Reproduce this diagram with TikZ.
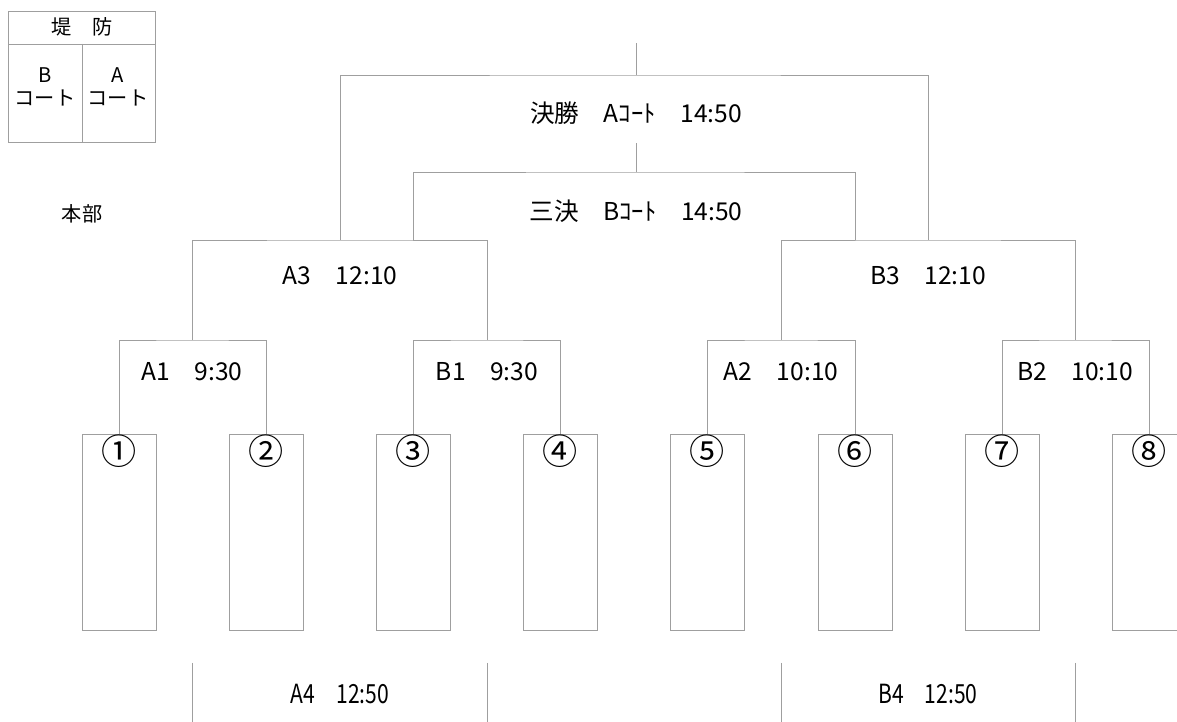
\documentclass[tikz,border=0pt]{standalone}
\usepackage{fontspec}
\setmainfont{Noto Sans CJK JP}
\newfontfamily\narrowjp[FakeStretch=0.8]{Noto Sans CJK JP}
\usetikzlibrary{positioning}
\tikzset{
	bracket/.style = {draw=gray!75, line width=0.5pt},
	player/.style = {
			rectangle,
			draw            = gray!75,
			line width      = 0.5pt,
			minimum width   = 1.48cm,
			minimum height  = 3.92cm,
			anchor          = north,
			inner sep       = 0pt,
		},
	match/.style = {font=\fontsize{14}{16}\selectfont, inner sep=1pt},
	seed/.style = {font=\fontsize{20}{22}\selectfont, inner sep=0pt},
	legendtext/.style = {font=\fontsize{11.5}{13.5}\selectfont, inner sep=1pt, align=center},
}

\begin{document}
\begin{tikzpicture}[x=0.02cm, y=-0.02cm]
	\useasboundingbox (0,0) rectangle (1177,722);

	% court legend
	\draw[bracket] (8,11) rectangle (155,142) (8,44) -- (155,44) (82,44) -- (82,142);
	\node[legendtext] (bank) at (82,27) {堤　防};
	\node[legendtext] (courtB) at (45,87) {B\\コート};
	\node[legendtext] (courtA) at (118,87) {A\\コート};
	\node[legendtext] (hq) at (82,214) {本部};

	% players
	\foreach \i/\x/\c in {1/119/①, 2/266/②, 3/413/③, 4/560/④, 5/707/⑤, 6/855/⑥, 7/1002/⑦, 8/1149/⑧}{
		\node[player] (p\i) at (\x,434) {};
		\node[seed, below=0.5pt of p\i.north] (n\i) {\c};
	}

	% match points
	\coordinate (mA1) at (192,340);
	\coordinate (mB1) at (487,340);
	\coordinate (mA2) at (781,340);
	\coordinate (mB2) at (1075,340);
	\coordinate (mA3) at (340,240);
	\coordinate (mB3) at (928,240);
	\coordinate (fin) at (636,75);
	\coordinate (third) at (636,172);
	\coordinate (tL) at (413,240);
	\coordinate (tR) at (855,240);
	\coordinate (finTop) at (636,43);
	\coordinate (thirdTop) at (636,143);

	\draw[bracket] (p1.north) |- (mA1) -| (p2.north);
	\draw[bracket] (p3.north) |- (mB1) -| (p4.north);
	\draw[bracket] (p5.north) |- (mA2) -| (p6.north);
	\draw[bracket] (p7.north) |- (mB2) -| (p8.north);
	\draw[bracket] (mA1) |- (mA3) -| (mB1);
	\draw[bracket] (mA2) |- (mB3) -| (mB2);
	\draw[bracket] (mA3) |- (fin) -| (mB3);
	\draw[bracket] (fin) -- (finTop);
	\draw[bracket] (tL) |- (third) -| (tR);
	\draw[bracket] (third) -- (thirdTop);

	% labels
	\node[match] (lFin) at (636,113) {決勝　Aｺｰﾄ　14:50};
	\node[match] (lThird) at (636,211) {三決　Bｺｰﾄ　14:50};
	\node[match] (lA3) at (340,276) {A3　12:10};
	\node[match] (lB3) at (928,276) {B3　12:10};
	\node[match] (lA1) at (192,372) {A1　9:30};
	\node[match] (lB1) at (487,372) {B1　9:30};
	\node[match] (lA2) at (781,372) {A2　10:10};
	\node[match] (lB2) at (1075,372) {B2　10:10};

	% consolation
	\foreach \x in {192,487,781,1075}
		\draw[bracket] (\x,663) -- (\x,722);
	\node[match, font=\narrowjp\fontsize{15}{17}\selectfont] (lA4) at (340,694) {A4　12:50};
	\node[match, font=\narrowjp\fontsize{15}{17}\selectfont] (lB4) at (928,694) {B4　12:50};
\end{tikzpicture}
\end{document}
